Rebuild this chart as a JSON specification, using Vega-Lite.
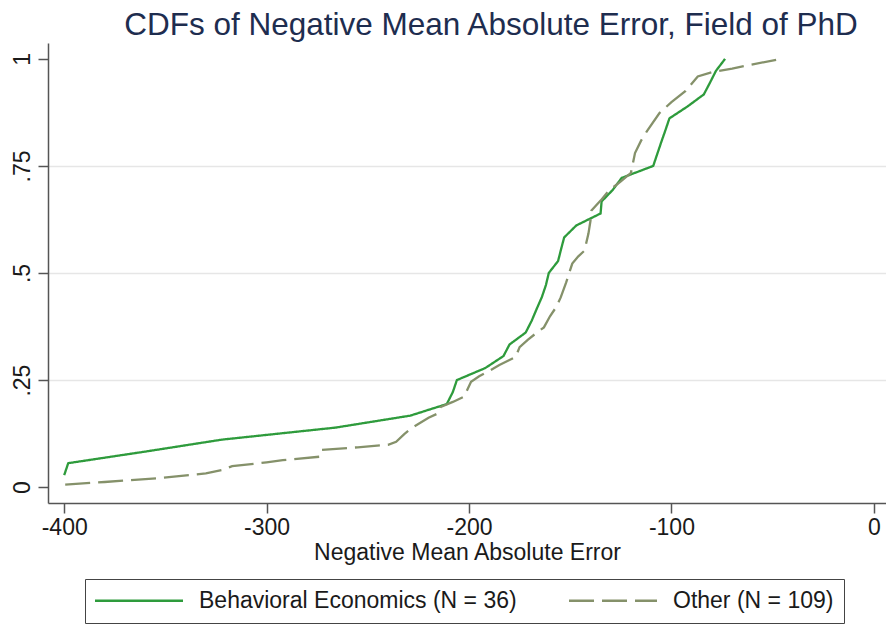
{
  "$schema": "https://vega.github.io/schema/vega-lite/v6.json",
  "autosize": {"type": "none"},
  "width": 838,
  "height": 460,
  "padding": {"left": 48, "top": 43, "right": 0, "bottom": 121},
  "background": "white",
  "config": {
    "view": {"stroke": null},
    "font": "Liberation Sans"
  },
  "title": {
    "text": "CDFs of Negative Mean Absolute Error, Field of PhD",
    "font": "Liberation Sans",
    "fontSize": 31.5,
    "fontWeight": "normal",
    "color": "#1e2d4f",
    "anchor": "middle",
    "dx": 24,
    "offset": 2
  },
  "data": {
    "values": [
      {"group": "Behavioral Economics (N = 36)", "nmae": -400, "cdf": 0.028},
      {"group": "Behavioral Economics (N = 36)", "nmae": -398, "cdf": 0.056},
      {"group": "Behavioral Economics (N = 36)", "nmae": -360, "cdf": 0.083},
      {"group": "Behavioral Economics (N = 36)", "nmae": -322, "cdf": 0.111},
      {"group": "Behavioral Economics (N = 36)", "nmae": -266, "cdf": 0.139},
      {"group": "Behavioral Economics (N = 36)", "nmae": -229, "cdf": 0.167},
      {"group": "Behavioral Economics (N = 36)", "nmae": -211, "cdf": 0.194},
      {"group": "Behavioral Economics (N = 36)", "nmae": -208, "cdf": 0.222},
      {"group": "Behavioral Economics (N = 36)", "nmae": -206, "cdf": 0.25},
      {"group": "Behavioral Economics (N = 36)", "nmae": -192, "cdf": 0.278},
      {"group": "Behavioral Economics (N = 36)", "nmae": -183, "cdf": 0.306},
      {"group": "Behavioral Economics (N = 36)", "nmae": -180, "cdf": 0.333},
      {"group": "Behavioral Economics (N = 36)", "nmae": -172, "cdf": 0.361},
      {"group": "Behavioral Economics (N = 36)", "nmae": -169, "cdf": 0.389},
      {"group": "Behavioral Economics (N = 36)", "nmae": -166.5, "cdf": 0.417},
      {"group": "Behavioral Economics (N = 36)", "nmae": -164, "cdf": 0.444},
      {"group": "Behavioral Economics (N = 36)", "nmae": -162, "cdf": 0.472},
      {"group": "Behavioral Economics (N = 36)", "nmae": -160.6, "cdf": 0.5},
      {"group": "Behavioral Economics (N = 36)", "nmae": -156, "cdf": 0.528},
      {"group": "Behavioral Economics (N = 36)", "nmae": -154.5, "cdf": 0.556},
      {"group": "Behavioral Economics (N = 36)", "nmae": -153, "cdf": 0.583},
      {"group": "Behavioral Economics (N = 36)", "nmae": -147, "cdf": 0.611},
      {"group": "Behavioral Economics (N = 36)", "nmae": -135, "cdf": 0.639},
      {"group": "Behavioral Economics (N = 36)", "nmae": -134.5, "cdf": 0.667},
      {"group": "Behavioral Economics (N = 36)", "nmae": -129, "cdf": 0.694},
      {"group": "Behavioral Economics (N = 36)", "nmae": -124.6, "cdf": 0.722},
      {"group": "Behavioral Economics (N = 36)", "nmae": -109, "cdf": 0.75},
      {"group": "Behavioral Economics (N = 36)", "nmae": -107, "cdf": 0.778},
      {"group": "Behavioral Economics (N = 36)", "nmae": -105, "cdf": 0.806},
      {"group": "Behavioral Economics (N = 36)", "nmae": -103, "cdf": 0.833},
      {"group": "Behavioral Economics (N = 36)", "nmae": -101, "cdf": 0.861},
      {"group": "Behavioral Economics (N = 36)", "nmae": -92, "cdf": 0.889},
      {"group": "Behavioral Economics (N = 36)", "nmae": -84, "cdf": 0.917},
      {"group": "Behavioral Economics (N = 36)", "nmae": -81, "cdf": 0.944},
      {"group": "Behavioral Economics (N = 36)", "nmae": -78, "cdf": 0.972},
      {"group": "Behavioral Economics (N = 36)", "nmae": -73.5, "cdf": 1.0},
      {"group": "Other (N = 109)", "nmae": -399.5, "cdf": 0.006},
      {"group": "Other (N = 109)", "nmae": -380, "cdf": 0.012},
      {"group": "Other (N = 109)", "nmae": -353, "cdf": 0.021},
      {"group": "Other (N = 109)", "nmae": -330, "cdf": 0.032},
      {"group": "Other (N = 109)", "nmae": -322, "cdf": 0.04},
      {"group": "Other (N = 109)", "nmae": -317, "cdf": 0.049},
      {"group": "Other (N = 109)", "nmae": -300, "cdf": 0.058},
      {"group": "Other (N = 109)", "nmae": -292, "cdf": 0.063},
      {"group": "Other (N = 109)", "nmae": -274, "cdf": 0.071},
      {"group": "Other (N = 109)", "nmae": -273, "cdf": 0.087},
      {"group": "Other (N = 109)", "nmae": -255, "cdf": 0.093},
      {"group": "Other (N = 109)", "nmae": -240, "cdf": 0.099},
      {"group": "Other (N = 109)", "nmae": -236, "cdf": 0.106},
      {"group": "Other (N = 109)", "nmae": -232, "cdf": 0.124},
      {"group": "Other (N = 109)", "nmae": -228, "cdf": 0.139},
      {"group": "Other (N = 109)", "nmae": -220, "cdf": 0.162},
      {"group": "Other (N = 109)", "nmae": -215, "cdf": 0.173},
      {"group": "Other (N = 109)", "nmae": -214, "cdf": 0.187},
      {"group": "Other (N = 109)", "nmae": -208, "cdf": 0.199},
      {"group": "Other (N = 109)", "nmae": -202.5, "cdf": 0.211},
      {"group": "Other (N = 109)", "nmae": -199, "cdf": 0.246},
      {"group": "Other (N = 109)", "nmae": -195, "cdf": 0.259},
      {"group": "Other (N = 109)", "nmae": -191, "cdf": 0.269},
      {"group": "Other (N = 109)", "nmae": -185, "cdf": 0.285},
      {"group": "Other (N = 109)", "nmae": -177, "cdf": 0.304},
      {"group": "Other (N = 109)", "nmae": -175, "cdf": 0.327},
      {"group": "Other (N = 109)", "nmae": -171, "cdf": 0.344},
      {"group": "Other (N = 109)", "nmae": -167, "cdf": 0.359},
      {"group": "Other (N = 109)", "nmae": -163, "cdf": 0.373},
      {"group": "Other (N = 109)", "nmae": -160, "cdf": 0.399},
      {"group": "Other (N = 109)", "nmae": -157, "cdf": 0.42},
      {"group": "Other (N = 109)", "nmae": -154.7, "cdf": 0.443},
      {"group": "Other (N = 109)", "nmae": -152, "cdf": 0.478},
      {"group": "Other (N = 109)", "nmae": -149, "cdf": 0.522},
      {"group": "Other (N = 109)", "nmae": -146, "cdf": 0.539},
      {"group": "Other (N = 109)", "nmae": -143, "cdf": 0.552},
      {"group": "Other (N = 109)", "nmae": -141, "cdf": 0.592},
      {"group": "Other (N = 109)", "nmae": -140, "cdf": 0.622},
      {"group": "Other (N = 109)", "nmae": -139.5, "cdf": 0.646},
      {"group": "Other (N = 109)", "nmae": -135, "cdf": 0.669},
      {"group": "Other (N = 109)", "nmae": -131, "cdf": 0.692},
      {"group": "Other (N = 109)", "nmae": -125, "cdf": 0.714},
      {"group": "Other (N = 109)", "nmae": -120, "cdf": 0.734},
      {"group": "Other (N = 109)", "nmae": -118, "cdf": 0.78},
      {"group": "Other (N = 109)", "nmae": -115, "cdf": 0.809},
      {"group": "Other (N = 109)", "nmae": -112, "cdf": 0.832},
      {"group": "Other (N = 109)", "nmae": -106, "cdf": 0.873},
      {"group": "Other (N = 109)", "nmae": -100, "cdf": 0.899},
      {"group": "Other (N = 109)", "nmae": -93, "cdf": 0.925},
      {"group": "Other (N = 109)", "nmae": -87, "cdf": 0.959},
      {"group": "Other (N = 109)", "nmae": -80, "cdf": 0.969},
      {"group": "Other (N = 109)", "nmae": -70, "cdf": 0.977},
      {"group": "Other (N = 109)", "nmae": -62, "cdf": 0.985},
      {"group": "Other (N = 109)", "nmae": -46, "cdf": 1.0}
    ]
  },
  "mark": {"type": "line", "strokeWidth": 2.3, "clip": true},
  "encoding": {
    "x": {
      "field": "nmae",
      "type": "quantitative",
      "scale": {"domain": [-408, 6], "nice": false, "zero": false},
      "axis": {
        "title": "Negative Mean Absolute Error",
        "values": [-400, -300, -200, -100, 0],
        "labelExpr": "'' + datum.value",
        "grid": false,
        "domainColor": "#555555",
        "domainWidth": 1.5,
        "tickColor": "#555555",
        "tickWidth": 1.5,
        "tickSize": 10,
        "labelFont": "Liberation Sans",
        "labelFontSize": 23,
        "labelColor": "#1a1a1a",
        "labelPadding": 3,
        "labelFlush": false,
        "titleFont": "Liberation Sans",
        "titleFontSize": 23,
        "titleFontWeight": "normal",
        "titleColor": "#1a1a1a",
        "titlePadding": 2
      }
    },
    "y": {
      "field": "cdf",
      "type": "quantitative",
      "scale": {"domain": [-0.037, 1.037], "nice": false, "zero": false},
      "axis": {
        "title": null,
        "values": [0, 0.25, 0.5, 0.75, 1],
        "labelExpr": "datum.value == 0 ? '0' : datum.value == 1 ? '1' : replace(format(datum.value, '.2~f'), '0.', '.')",
        "grid": true,
        "gridColor": "#e6e6e6",
        "gridWidth": 1.5,
        "gridOpacity": {"condition": {"test": "datum.value == 0 || datum.value == 1", "value": 0}, "value": 1},
        "domainColor": "#555555",
        "domainWidth": 1.5,
        "tickColor": "#555555",
        "tickWidth": 1.5,
        "tickSize": 10,
        "labelAngle": -90,
        "labelAlign": "center",
        "labelBaseline": "bottom",
        "labelFont": "Liberation Sans",
        "labelFontSize": 23,
        "labelColor": "#1a1a1a",
        "labelPadding": 4
      }
    },
    "color": {
      "field": "group",
      "type": "nominal",
      "scale": {"domain": ["Behavioral Economics (N = 36)", "Other (N = 109)"], "range": ["#2e9b3c", "#85916a"]},
      "legend": {
        "title": null,
        "orient": "none",
        "direction": "horizontal",
        "legendX": 37,
        "legendY": 536,
        "padding": 10,
        "columnPadding": 47,
        "strokeColor": "#444444",
        "fillColor": "white",
        "symbolType": "M-1.15,0H7.65",
        "symbolSize": 400,
        "symbolStrokeWidth": 2.3,
        "labelFont": "Liberation Sans",
        "labelFontSize": 23,
        "labelColor": "#1a1a1a",
        "labelOffset": 81,
        "labelLimit": 500
      }
    },
    "strokeDash": {
      "field": "group",
      "type": "nominal",
      "scale": {"domain": ["Behavioral Economics (N = 36)", "Other (N = 109)"], "range": [[1, 0], [25, 8]]},
      "legend": {
        "title": null,
        "orient": "none",
        "direction": "horizontal",
        "legendX": 37,
        "legendY": 536,
        "padding": 10,
        "columnPadding": 47,
        "strokeColor": "#444444",
        "fillColor": "white",
        "symbolType": "M-1.15,0H7.65",
        "symbolSize": 400,
        "symbolStrokeWidth": 2.3,
        "labelFont": "Liberation Sans",
        "labelFontSize": 23,
        "labelColor": "#1a1a1a",
        "labelOffset": 81,
        "labelLimit": 500
      }
    }
  }
}
